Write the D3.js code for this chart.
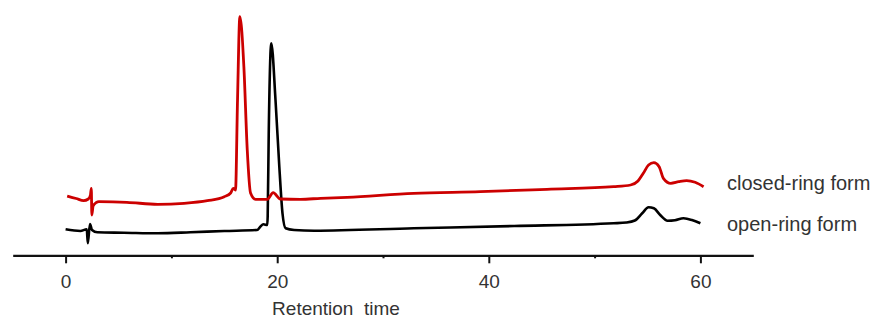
<!DOCTYPE html>
<html>
<head>
<meta charset="utf-8">
<script src="https://cdn.jsdelivr.net/npm/d3@7"></script>
<style>
  body { margin: 0; background: #fff; }
  text { font-family: "Liberation Sans", Arial, sans-serif; fill: #333; }
</style>
</head>
<body>
<script>
const w = 874;
const h = 320;

// retention time (min) and detector signal (arbitrary units)
const closedTime = [0.15, 1.0, 1.7, 2.15, 2.35, 2.43, 2.48, 2.6, 2.9, 3.15, 5.8, 8.7, 11.2, 13.4, 15.0, 15.6, 15.85, 16.06, 16.25, 16.47, 16.85, 17.17, 17.48, 17.95, 19.06, 19.62, 20.3, 22.2, 24.1, 26.6, 32.9, 39.2, 45.5, 51.8, 53.4, 54.1, 54.6, 55.1, 55.6, 56.1, 56.5, 57.2, 57.95, 58.7, 59.5, 60.3];
const closedSignal = [60, 57.5, 55.3, 57, 61, 67.7, 41, 50, 53.5, 54.3, 53.7, 51.7, 52.7, 55.3, 59.3, 63, 67.7, 66, 156, 239.3, 189.3, 106, 63, 56.7, 56.7, 63.3, 57, 56.7, 57.7, 58.7, 62.7, 64.3, 66.7, 69.3, 71, 75, 82.7, 91, 93.3, 89.3, 77.7, 72.7, 74.3, 75.3, 73.7, 69.3];

const openTime = [0.0, 1.4, 2.0, 2.1, 2.3, 2.5, 3.0, 5.5, 8.7, 11.8, 15.0, 18.1, 18.4, 18.7, 19.06, 19.1, 19.2, 19.44, 19.84, 20.2, 20.5, 20.8, 21.6, 23.5, 32.9, 42.4, 51.8, 53.0, 53.8, 54.5, 55.1, 55.6, 56.2, 56.9, 57.6, 58.4, 59.2, 60.0];
const openSignal = [26.7, 25, 26.7, 12.7, 32, 26, 23.7, 23.3, 22.7, 23.7, 25, 26, 29.3, 31.7, 31, 39.3, 122.7, 212.7, 156, 89.3, 42.7, 27.7, 26, 25.3, 27.7, 30, 32.7, 33.5, 35.5, 42.7, 48.7, 47.7, 41, 35.3, 35.8, 37.7, 36, 32.7];

const seriesNames = ["closed-ring form", "open-ring form"];
const seriesColors = ["#cc0000", "#000000"];
const majorTicks = [0, 20, 40, 60];
const minorTicks = [10, 30, 50];

const svg = d3.select("body").append("svg").attr("width", w).attr("height", h);

const xScale = d3.scaleLinear().domain([-5, 65]).range([12.7, 753.3]);
const yScale = d3.scaleLinear().domain([0, 240]).range([256, 16]);

const line = d3.line()
    .x(d => xScale(d[0]))
    .y(d => yScale(d[1]))
    .curve(d3.curveMonotoneX);

const closed = closedTime.map((t, i) => [t, closedSignal[i]]);
const open = openTime.map((t, i) => [t, openSignal[i]]);

svg.append("path")
    .datum(open)
    .attr("d", line)
    .attr("fill", "none")
    .attr("stroke", seriesColors[1])
    .attr("stroke-width", 2.6)
    .attr("stroke-linejoin", "round");

svg.append("path")
    .datum(closed)
    .attr("d", line)
    .attr("fill", "none")
    .attr("stroke", seriesColors[0])
    .attr("stroke-width", 2.8)
    .attr("stroke-linejoin", "round");

// x axis
const axisY = 255.3;
const xAxis = d3.axisBottom(xScale).tickValues(majorTicks).tickSize(8).tickSizeOuter(0).tickPadding(11);
const gx = svg.append("g").attr("transform", "translate(0," + axisY + ")").call(xAxis);
gx.select(".domain").attr("stroke", "#111").attr("stroke-width", 2.2);
gx.selectAll(".tick line").attr("stroke", "#111").attr("stroke-width", 2);
gx.selectAll(".tick text").attr("fill", "#333").style("font-size", "19px").style("font-family", "'Liberation Sans', Arial, sans-serif");

const minorAxis = d3.axisBottom(xScale).tickValues(minorTicks).tickSize(3).tickSizeOuter(0).tickFormat("");
const gm = svg.append("g").attr("transform", "translate(0," + axisY + ")").call(minorAxis);
gm.select(".domain").remove();
gm.selectAll(".tick line").attr("stroke", "#111").attr("stroke-width", 2);

// axis title
svg.append("text")
    .attr("x", 336)
    .attr("y", 315)
    .attr("text-anchor", "middle")
    .style("font-size", "19px")
    .style("white-space", "pre")
    .text("Retention  time");

// series labels
svg.append("text")
    .attr("x", 727)
    .attr("y", 190)
    .style("font-size", "20px")
    .text(seriesNames[0]);

svg.append("text")
    .attr("x", 727)
    .attr("y", 231)
    .style("font-size", "20px")
    .text(seriesNames[1]);
</script>
</body>
</html>
